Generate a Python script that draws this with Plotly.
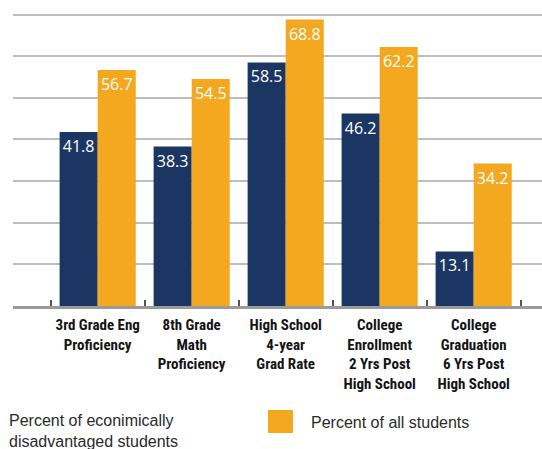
import plotly.graph_objects as go

categories = [
    "3rd Grade Eng<br>Proficiency",
    "8th Grade<br>Math<br>Proficiency",
    "High School<br>4-year<br>Grad Rate",
    "College<br>Enrollment<br>2 Yrs Post<br>High School",
    "College<br>Graduation<br>6 Yrs Post<br>High School",
]
disadvantaged = [41.8, 38.3, 58.5, 46.2, 13.1]
all_students = [56.7, 54.5, 68.8, 62.2, 34.2]
series_names = ["Percent of econimically<br>disadvantaged students", "Percent of all students"]
grid_values = [10, 20, 30, 40, 50, 60, 70]

NAVY = "#1c3664"
ORANGE = "#f4a81f"

W, H = 542, 449
ML, MR, MT, MB = 13, 0, 0, 143
pw = W - ML - MR
ph = H - MT - MB

def px_x(x):
    return (x - ML) / pw

def px_y(y):
    return (H - MB - y) / ph

fig = go.Figure()
for name, vals, col in [(series_names[0], disadvantaged, NAVY), (series_names[1], all_students, ORANGE)]:
    fig.add_trace(go.Bar(
        x=categories, y=vals, name=name, marker=dict(color=col, line=dict(width=0)),
        text=[f"{v:.1f}" for v in vals], textposition="inside", insidetextanchor="end",
        textangle=0, constraintext="none",
        textfont=dict(color="white", size=16, family="Open Sans, Liberation Sans, sans-serif"),
        showlegend=False, hoverinfo="skip",
    ))

fig.update_layout(
    width=W, height=H, margin=dict(l=ML, r=MR, t=MT, b=MB, autoexpand=False),
    plot_bgcolor="white", paper_bgcolor="white", showlegend=False,
    barmode="group", bargap=0.19, bargroupgap=0,
    xaxis=dict(
        range=[-0.901, 4.727], tickson="boundaries", ticks="inside", ticklen=6,
        tickwidth=1.5, tickcolor="#555", showline=True, linecolor="#9a9a9a", linewidth=3,
        showgrid=False, tickangle=0, automargin=False, ticklabelstandoff=3,
        tickfont=dict(family="Roboto Condensed, Open Sans Condensed, sans-serif",
                      size=15, color="#141414", weight="bold"),
    ),
    yaxis=dict(
        range=[0, ph / 4.164], tickvals=grid_values, showticklabels=False,
        showgrid=True, gridcolor="#bdbdbd", gridwidth=2, zeroline=False,
    ),
    font=dict(family="Liberation Sans, sans-serif"),
)

# legend drawn as annotations + swatch
fig.add_annotation(
    xref="paper", yref="paper", x=px_x(7), y=px_y(431), xanchor="left", yanchor="middle",
    text=series_names[0], showarrow=False, align="left",
    font=dict(size=16, color="#2a2a2a", family="Liberation Sans, sans-serif"),
)
fig.add_shape(
    type="rect", xref="paper", yref="paper",
    x0=px_x(268), x1=px_x(293), y0=px_y(433), y1=px_y(410),
    fillcolor=ORANGE, line=dict(width=0),
)
fig.add_annotation(
    xref="paper", yref="paper", x=px_x(309), y=px_y(422), xanchor="left", yanchor="middle",
    text=series_names[1], showarrow=False, align="left",
    font=dict(size=16, color="#2a2a2a", family="Liberation Sans, sans-serif"),
)

fig.write_html(
    "out.html",
    config={"displayModeBar": False},
    post_script="document.body.style.margin='0';document.body.style.overflow='hidden';",
)
